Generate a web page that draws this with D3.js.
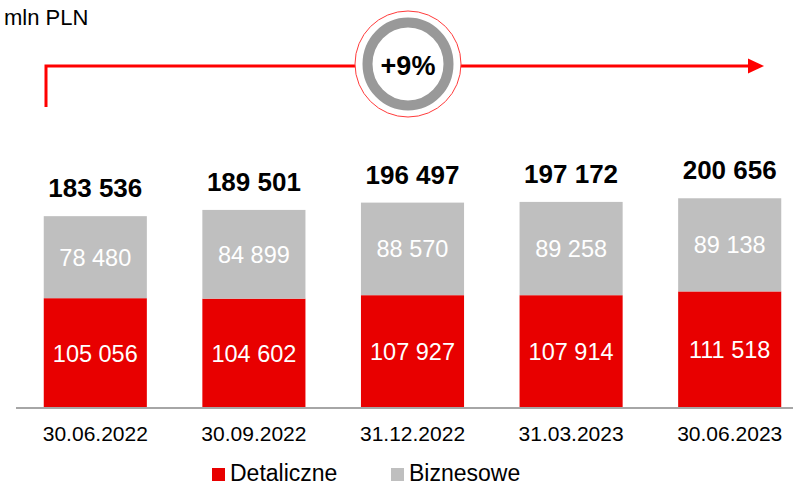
<!DOCTYPE html>
<html>
<head>
<meta charset="utf-8">
<script src="https://cdn.jsdelivr.net/npm/d3@7"></script>
<style>
  body { margin: 0; background: #fff; }
  text { font-family: "Liberation Sans", Arial, sans-serif; }
</style>
</head>
<body>
<div id="chart"></div>
<script>
var svgWidth = 793;
var svgHeight = 486;

// data
var categories = ["30.06.2022", "30.09.2022", "31.12.2022", "31.03.2023", "30.06.2023"];
var detaliczne = [105056, 104602, 107927, 107914, 111518];
var biznesowe = [78480, 84899, 88570, 89258, 89138];
var seriesNames = ["Detaliczne", "Biznesowe"];
var growthLabel = "+9%";
var unitLabel = "mln PLN";

var colors = { Detaliczne: "#e80000", Biznesowe: "#bfbfbf" };

var fmt = function(v) {
  return d3.format(",")(v).replace(/,/g, " ");
};

var chartData = categories.map(function(c, i) {
  return { cat: c, Detaliczne: detaliczne[i], Biznesowe: biznesowe[i], total: detaliczne[i] + biznesowe[i] };
});

var svg = d3.select("#chart")
  .append("svg")
  .attr("width", svgWidth)
  .attr("height", svgHeight);

var baseY = 408;

var xScale = d3.scaleBand()
  .domain(categories)
  .range([16, 809])
  .paddingInner(0.35)
  .paddingOuter(0.175);

var yScale = d3.scaleLinear()
  .domain([0, 210000])
  .range([baseY, baseY - 219.5]);

var stack = d3.stack().keys(seriesNames);
var stacked = stack(chartData);

// bars
var layers = svg.selectAll(".layer")
  .data(stacked)
  .enter()
  .append("g")
  .attr("fill", d => colors[d.key]);

layers.selectAll("rect")
  .data(d => d)
  .enter()
  .append("rect")
  .attr("x", d => xScale(d.data.cat))
  .attr("width", xScale.bandwidth())
  .attr("y", d => yScale(d[1]))
  .attr("height", d => yScale(d[0]) - yScale(d[1]));

// segment labels
layers.selectAll("text")
  .data(d => d)
  .enter()
  .append("text")
  .attr("x", d => xScale(d.data.cat) + xScale.bandwidth() / 2)
  .attr("y", d => (yScale(d[0]) + yScale(d[1])) / 2 + 8.5)
  .attr("text-anchor", "middle")
  .attr("fill", "#fff")
  .style("font-size", "23.5px")
  .text(d => fmt(d[1] - d[0]));

// totals
svg.selectAll(".total")
  .data(chartData)
  .enter()
  .append("text")
  .attr("class", "total")
  .attr("x", d => xScale(d.cat) + xScale.bandwidth() / 2)
  .attr("y", d => yScale(d.total) - 19)
  .attr("text-anchor", "middle")
  .style("font-size", "26px")
  .style("font-weight", "bold")
  .text(d => fmt(d.total));

// x axis
var xAxis = svg.append("g")
  .attr("transform", `translate(0, ${baseY})`)
  .call(d3.axisBottom(xScale).tickSize(0).tickPadding(18));

xAxis.select(".domain")
  .attr("stroke", "#a6a6a6")
  .attr("stroke-width", 2)
  .attr("d", "M16,0H793");

xAxis.selectAll(".tick text")
  .attr("fill", "#000")
  .style("font-size", "21px")
  .style("font-family", "Liberation Sans, Arial, sans-serif");

// unit
svg.append("text")
  .attr("x", 4)
  .attr("y", 25)
  .style("font-size", "22px")
  .text(unitLabel);

// growth arrow
var arrowY = 66;
svg.append("path")
  .attr("d", `M46,107V${arrowY}H750`)
  .attr("fill", "none")
  .attr("stroke", "#ff0000")
  .attr("stroke-width", 3);

svg.append("path")
  .attr("d", `M748,${arrowY - 7.5}L764,${arrowY}L748,${arrowY + 7.5}Z`)
  .attr("fill", "#ff0000");

var cx = 408, cy = 64;
svg.append("ellipse")
  .attr("cx", cx).attr("cy", cy)
  .attr("rx", 53).attr("ry", 53)
  .attr("fill", "#fff")
  .attr("stroke", "#ff3b3b")
  .attr("stroke-width", 1);

svg.append("ellipse")
  .attr("cx", cx).attr("cy", cy)
  .attr("rx", 40.5).attr("ry", 41.5)
  .attr("fill", "none")
  .attr("stroke", "#999999")
  .attr("stroke-width", 10);

svg.append("text")
  .attr("x", cx)
  .attr("y", 75)
  .attr("text-anchor", "middle")
  .style("font-size", "27px")
  .style("font-weight", "bold")
  .text(growthLabel);

// legend
var legendX = [212, 391];
var legend = svg.selectAll(".legend")
  .data(seriesNames)
  .enter()
  .append("g")
  .attr("transform", (d, i) => `translate(${legendX[i]}, 468)`);

legend.append("rect")
  .attr("width", 13)
  .attr("height", 13)
  .attr("fill", d => colors[d]);

legend.append("text")
  .attr("x", 18)
  .attr("y", 12.5)
  .style("font-size", "23px")
  .text(d => d);
</script>
</body>
</html>
